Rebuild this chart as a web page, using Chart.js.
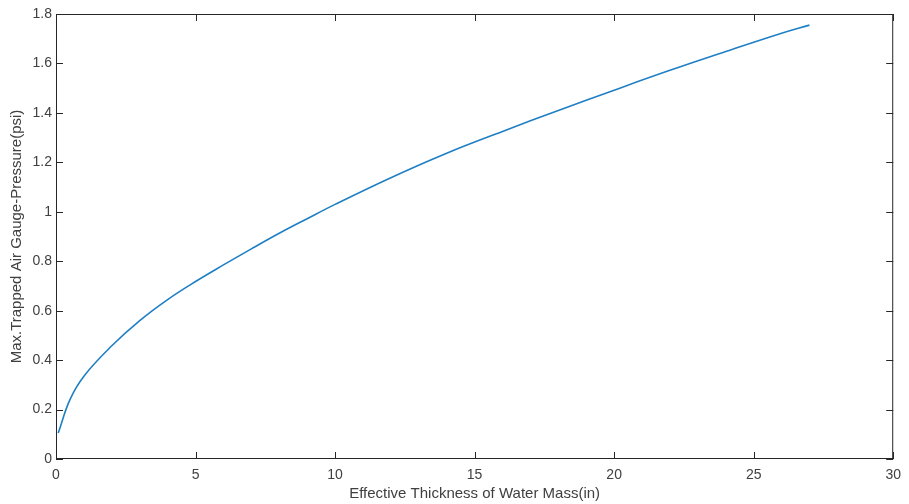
<!DOCTYPE html>
<html>
<head>
<meta charset="utf-8">
<script src="https://cdn.jsdelivr.net/npm/chart.js@4/dist/chart.umd.min.js"></script>
<style>
	html, body { margin: 0; padding: 0; background: #fff; }
	#wrap { width: 909px; height: 504px; }
</style>
</head>
<body>
<div id="wrap"><canvas id="chart" width="909" height="504"></canvas></div>
<script>
// values
const thickness = [0.08, 0.5, 1, 2, 3, 4, 5, 6, 7, 8, 9, 10, 12, 14, 16, 18, 20, 22, 24, 26, 27];
const pressure = [0.105, 0.24, 0.335, 0.458, 0.56, 0.645, 0.718, 0.785, 0.85, 0.913, 0.972, 1.03, 1.138, 1.237, 1.325, 1.41, 1.492, 1.572, 1.648, 1.722, 1.755];
const xTicks = [0, 5, 10, 15, 20, 25, 30];
const yTicks = [0, 0.2, 0.4, 0.6, 0.8, 1, 1.2, 1.4, 1.6, 1.8];

const axisColor = '#262626';
const textColor = '#404040';

// box around the plot with ticks pointing inward on all four sides
const boxTicks = {
	id: 'boxTicks',
	afterDraw(c) {
		const { ctx, chartArea: a, scales } = c;
		const len = 7;
		ctx.save();
		ctx.strokeStyle = axisColor;
		ctx.lineWidth = 1;
		ctx.strokeRect(a.left + 0.5, a.top + 0.5, a.right - a.left - 1, a.bottom - a.top - 1);
		ctx.beginPath();
		xTicks.forEach(v => {
			const x = Math.round(scales.x.getPixelForValue(v)) + 0.5;
			ctx.moveTo(x, a.bottom);
			ctx.lineTo(x, a.bottom - len);
			ctx.moveTo(x, a.top);
			ctx.lineTo(x, a.top + len);
		});
		yTicks.forEach(v => {
			const y = Math.round(scales.y.getPixelForValue(v)) + 0.5;
			ctx.moveTo(a.left, y);
			ctx.lineTo(a.left + len, y);
			ctx.moveTo(a.right, y);
			ctx.lineTo(a.right - len, y);
		});
		ctx.stroke();
		ctx.restore();
	},
};

const chart = document.querySelector('#chart').getContext('2d');
new Chart(chart, {
	type: 'line',
	data: {
		datasets: [
			{
				data: thickness.map((x, i) => ({ x: x, y: pressure[i] })),
				borderColor: '#1f7fc4',
				borderWidth: 1.6,
				pointRadius: 0,
				tension: 0.4,
				fill: false,
			},
		],
	},
	options: {
		responsive: false,
		animation: false,
		layout: { padding: { left: 0, right: 10, top: 14, bottom: 0 } },
		plugins: { legend: { display: false }, tooltip: { enabled: false } },
		scales: {
			x: {
				type: 'linear',
				min: 0,
				max: 30,
				afterBuildTicks: s => { s.ticks = xTicks.map(v => ({ value: v })); },
				afterFit: s => { s.height = 45; },
				grid: { display: false, drawTicks: false },
				border: { display: false },
				ticks: {
					padding: 8,
					color: textColor,
					font: { family: 'Liberation Sans, Arial', size: 14 },
					callback: v => String(v),
				},
				title: {
					display: true,
					text: 'Effective Thickness of Water Mass(in)',
					color: textColor,
					font: { family: 'Liberation Sans, Arial', size: 15 },
					padding: { top: 0, bottom: 1 },
				},
			},
			y: {
				type: 'linear',
				min: 0,
				max: 1.8,
				afterBuildTicks: s => { s.ticks = yTicks.map(v => ({ value: v })); },
				afterFit: s => { s.width = 56; },
				grid: { display: false, drawTicks: false },
				border: { display: false },
				ticks: {
					padding: 4,
					color: textColor,
					font: { family: 'Liberation Sans, Arial', size: 14 },
					callback: v => String(Math.round(v * 10) / 10),
				},
				title: {
					display: true,
					text: 'Max.Trapped Air Gauge-Pressure(psi)',
					color: textColor,
					font: { family: 'Liberation Sans, Arial', size: 15 },
					padding: { top: 8, bottom: 0 },
				},
			},
		},
	},
	plugins: [boxTicks],
});
</script>
</body>
</html>
